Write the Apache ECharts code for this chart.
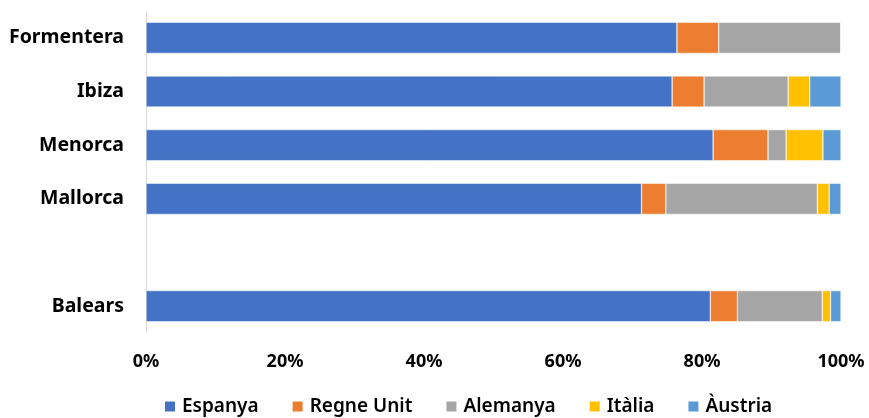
<!DOCTYPE html>
<html>
<head>
<meta charset="utf-8">
<script src="https://cdn.jsdelivr.net/npm/echarts@6/dist/echarts.min.js"></script>
<style>
    html, body { margin: 0; padding: 0; background: #fff; }
    #chart { width: 869px; height: 418px; }
</style>
</head>
<body>
<div id="chart"></div>
<script>
// categories, bottom to top (empty slot separates Balears from islands)
const categories = ['Balears', '', 'Mallorca', 'Menorca', 'Ibiza', 'Formentera']
const xTicks = ['0%', '20%', '40%', '60%', '80%', '100%']

// percent share per category
const espanya = [81.2, '-', 71.3, 81.6, 75.7, 76.4]
const regneUnit = [3.9, '-', 3.5, 7.9, 4.6, 6.0]
const alemanya = [12.2, '-', 21.8, 2.6, 12.1, 17.6]
const italia = [1.2, '-', 1.7, 5.3, 3.1, 0]
const austria = [1.5, '-', 1.7, 2.6, 4.5, 0]

const seriesDefs = [
    { name: 'Espanya', data: espanya, color: '#4472C4' },
    { name: 'Regne Unit', data: regneUnit, color: '#ED7D31' },
    { name: 'Alemanya', data: alemanya, color: '#A5A5A5' },
    { name: 'Itàlia', data: italia, color: '#FFC000' },
    { name: 'Àustria', data: austria, color: '#5B9BD5' },
]

const font = "'Noto Sans', 'Open Sans', sans-serif"

const chart = echarts.init(document.getElementById('chart'))
chart.setOption({
    animation: false,
    textStyle: { fontFamily: font },
    grid: {
        left: 146,
        right: 28,
        top: 11,
        bottom: 85,
        containLabel: false,
    },
    legend: {
        bottom: 2,
        left: 163,
        padding: [0, 0],
        itemWidth: 12,
        itemHeight: 12,
        itemGap: 32,
        icon: 'rect',
        textStyle: { fontSize: 19, fontWeight: 600, color: '#000', fontFamily: font, padding: [0, 0, 0, 1] },
        data: seriesDefs.map((s) => s.name),
    },
    xAxis: {
        type: 'value',
        min: 0,
        max: 100,
        interval: 20,
        axisLine: { show: false },
        axisTick: { show: false },
        splitLine: { show: false },
        axisLabel: {
            margin: 20,
            fontSize: 18,
            fontWeight: 'bold',
            color: '#000',
            formatter: (v) => xTicks[Math.round(v / 20)],
        },
    },
    yAxis: {
        type: 'category',
        data: categories,
        axisLine: { show: true, lineStyle: { color: '#D9D9D9', width: 1 } },
        axisTick: { show: false },
        axisLabel: {
            margin: 22,
            fontSize: 19.5,
            fontWeight: 'bold',
            color: '#000',
        },
    },
    series: seriesDefs.map((s) => ({
        name: s.name,
        type: 'bar',
        stack: 'total',
        barWidth: '58%',
        data: s.data,
        itemStyle: { color: s.color, borderColor: '#fff', borderWidth: 0.5 },
    })),
})
</script>
</body>
</html>
